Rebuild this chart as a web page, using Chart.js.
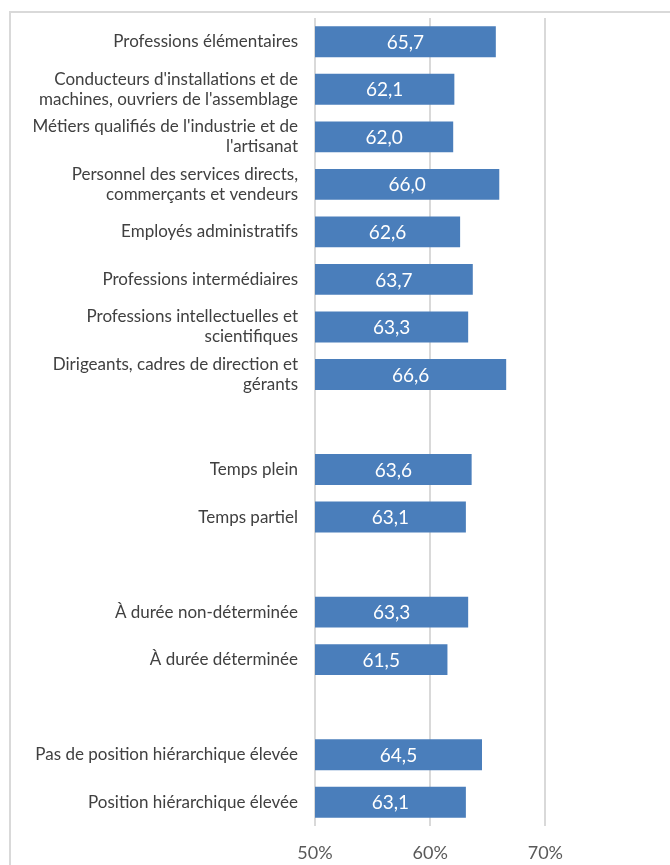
<!DOCTYPE html>
<html>
<head>
<meta charset="utf-8">
<script src="https://cdn.jsdelivr.net/npm/chart.js@4.4.1/dist/chart.umd.min.js"></script>
<style>
    body { margin: 0; background: #fff; overflow: hidden; }
    #wrap { position: relative; width: 670px; height: 865px; }
    #frame { position: absolute; left: 9px; top: 11px; width: 700px; height: 900px;
             border-left: 2px solid #d9d9d9; border-top: 2px solid #d9d9d9; }
    #chart { position: absolute; left: 0; top: 0; }
</style>
</head>
<body>
<div id="wrap">
    <div id="frame"></div>
    <canvas id="chart" width="670" height="865"></canvas>
</div>
<script>
var categories = [
    "Professions élémentaires",
    ["Conducteurs d'installations et de", "machines, ouvriers de l'assemblage"],
    ["Métiers qualifiés de l'industrie et de", "l'artisanat"],
    ["Personnel des services directs,", "commerçants et vendeurs"],
    "Employés administratifs",
    "Professions intermédiaires",
    ["Professions intellectuelles et", "scientifiques"],
    ["Dirigeants, cadres de direction et", "gérants"],
    "",
    "Temps plein",
    "Temps partiel",
    "",
    "À durée non-déterminée",
    "À durée déterminée",
    "",
    "Pas de position hiérarchique élevée",
    "Position hiérarchique élevée"
];
var values = [65.7, 62.1, 62.0, 66.0, 62.6, 63.7, 63.3, 66.6, null, 63.6, 63.1, null, 63.3, 61.5, null, 64.5, 63.1];
var xTicks = [50, 60, 70];

// white value labels in the middle of each bar
var barLabels = {
    id: 'barLabels',
    afterDatasetsDraw: function (chart) {
        var ctx = chart.ctx;
        var meta = chart.getDatasetMeta(0);
        var left = chart.chartArea.left;
        ctx.save();
        ctx.fillStyle = '#ffffff';
        ctx.font = '19px Lato';
        ctx.textAlign = 'center';
        ctx.textBaseline = 'middle';
        meta.data.forEach(function (bar, i) {
            var v = values[i];
            if (v === null) return;
            var base = Math.max(bar.base, left);
            ctx.fillText(v.toFixed(1).replace('.', ','), (bar.x + base) / 2, bar.y + 1);
        });
        ctx.restore();
    }
};

var ctx = document.getElementById('chart').getContext('2d');
var myChart = new Chart(ctx, {
    type: 'bar',
    data: {
        labels: categories,
        datasets: [{
            data: values,
            backgroundColor: '#4a7ebb',
            barPercentage: 0.65,
            categoryPercentage: 1.0
        }]
    },
    options: {
        indexAxis: 'y',
        responsive: false,
        animation: false,
        layout: { padding: { top: 18, right: 21, bottom: 0, left: 0 } },
        plugins: { legend: { display: false }, tooltip: { enabled: false } },
        scales: {
            x: {
                min: 50,
                max: 79,
                afterBuildTicks: function (scale) {
                    scale.ticks = xTicks.map(function (v) { return { value: v }; });
                },
                afterFit: function (scale) { scale.height = 39; },
                grid: { color: '#d9d9d9', lineWidth: 2, drawTicks: false },
                border: { display: false },
                ticks: {
                    padding: 16,
                    color: '#595959',
                    font: { family: 'Lato', size: 18 },
                    callback: function (v) { return v + '%'; }
                }
            },
            y: {
                afterFit: function (scale) {
                    scale.width = 315;
                    scale.paddingTop = 0;
                    scale.paddingBottom = 0;
                },
                grid: { display: false },
                border: { display: false },
                ticks: {
                    padding: 9,
                    color: '#404040',
                    font: { family: 'Lato', size: 17, lineHeight: 1.18 },
                    autoSkip: false
                }
            }
        }
    },
    plugins: [barLabels]
});
</script>
</body>
</html>
